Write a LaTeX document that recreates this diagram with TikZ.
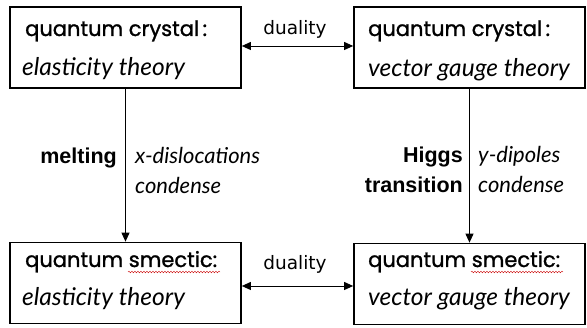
\documentclass[tikz,border=0pt]{standalone}
\usepackage{fontspec}
\setmainfont{Lato}
\newfontfamily\titlefont[FakeBold=1.2]{Poppins}
\newfontfamily\itfont{Lato}
\newfontfamily\lblfont{Liberation Sans}
\newfontfamily\dfont{DejaVu Sans}
\usetikzlibrary{arrows.meta,decorations.pathmorphing}
\begin{document}
\begin{tikzpicture}[x=1pt,y=-1pt,
  box/.style={draw, line width=1.7pt, inner sep=0pt, minimum width=231pt, minimum height=81pt},
  ttl/.style={anchor=base west, inner sep=0pt, font=\titlefont\fontsize{21}{21}\selectfont},
  sub/.style={anchor=base west, inner sep=0pt, font=\itfont\itshape\fontsize{24.5}{24.5}\selectfont},
  lbl/.style={inner sep=0pt, font=\dfont\fontsize{18.5}{18.5}\selectfont},
  blbl/.style={inner sep=0pt, font=\lblfont\bfseries\fontsize{21.5}{21.5}\selectfont},
  ilbl/.style={inner sep=0pt, anchor=base west, font=\itfont\itshape\fontsize{22}{22}\selectfont},
  arr/.style={line width=0.9pt, -{Triangle[length=9pt,width=8pt]}},
  darr/.style={line width=0.9pt, {Triangle[length=9pt,width=8pt]}-{Triangle[length=9pt,width=8pt]}},
  wavy/.style={draw=red!80!black, line width=0.4pt, decorate, decoration={snake, amplitude=0.8pt, segment length=3pt}}
]
\useasboundingbox (0,0) rectangle (587,328);
\fill[white] (0,0) rectangle (587,328);
% boxes
\node[box] (tl) at (125.5,47.5) {};
\node[box] (tr) at (469.5,47.5) {};
\node[box] (bl) at (125.5,283) {};
\node[box] (br) at (469.5,284) {};
% box texts
\node[ttl] (tlt) at (25,36) {quantum crystal\,:};
\node[sub] (tls) at (22,76) {elasticity theory};
\node[ttl] (trt) at (368,36) {quantum crystal\,:};
\node[sub] (trs) at (368,77) {vector gauge theory};
\node[ttl] (blt) at (25,267) {quantum smectic:};
\node[sub] (bls) at (22,306) {elasticity theory};
\node[ttl] (brt) at (368,267) {quantum smectic:};
\node[sub] (brs) at (368,306) {vector gauge theory};
% spell-check underlines
\coordinate (w1a) at (128,272); \coordinate (w1b) at (220,272);
\coordinate (w2a) at (471,272); \coordinate (w2b) at (563,272);
\draw[wavy] (w1a) -- (w1b);
\draw[wavy] (w2a) -- (w2b);
% duality arrows
\draw[darr] (tl.east |- 0,46) -- (tr.west |- 0,46);
\draw[darr] (bl.east |- 0,286) -- (br.west |- 0,286);
\node[lbl, anchor=base] (d1) at (295,35) {duality};
\node[lbl, anchor=base] (d2) at (295,270) {duality};
% vertical arrows
\draw[arr] (tl.south) -- (bl.north);
\draw[arr] (tr.south) -- (br.north);
% labels
\node[blbl, anchor=base east] (m1) at (117,164) {melting};
\node[ilbl] (m2) at (135,164) {x-dislocations};
\node[ilbl] (m3) at (135,194) {condense};
\node[blbl, anchor=base east] (h1) at (463,163) {Higgs};
\node[blbl, anchor=base east] (h2) at (463,193) {transition};
\node[ilbl] (h3) at (478,163) {y-dipoles};
\node[ilbl] (h4) at (478,193) {condense};
\end{tikzpicture}
\end{document}
